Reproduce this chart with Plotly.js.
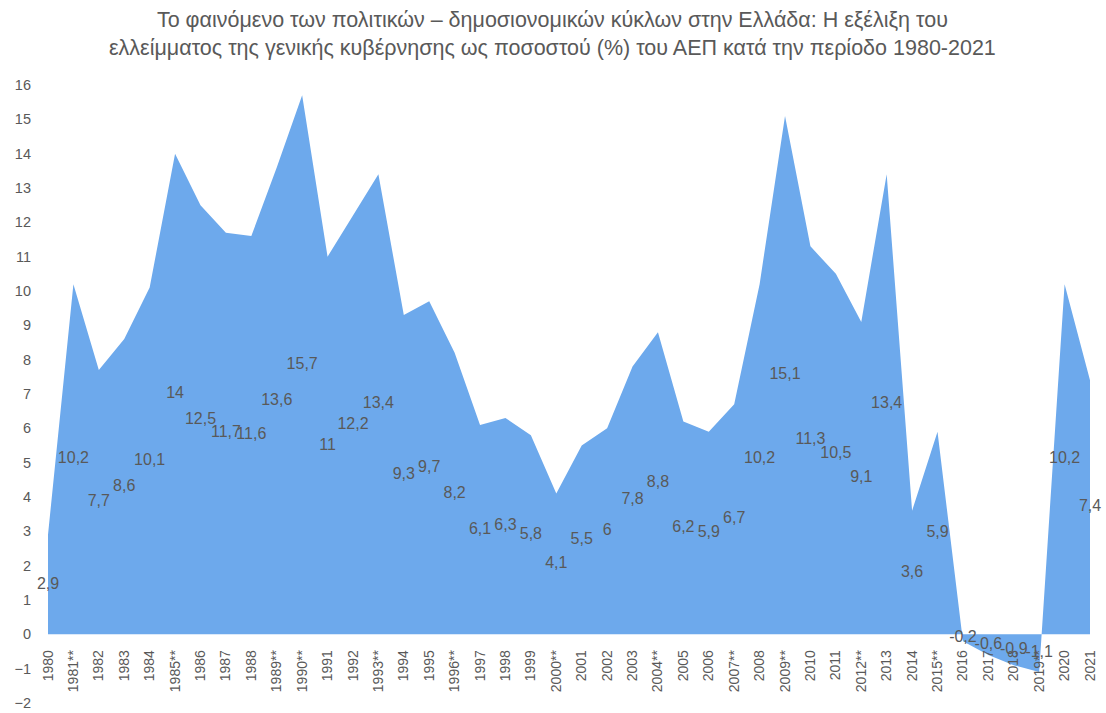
<!DOCTYPE html>
<html><head><meta charset="utf-8">
<script src="https://cdn.plot.ly/plotly-3.0.1.min.js"></script>
<style>html,body{margin:0;padding:0;background:#fff}#c{width:1106px;height:713px}</style>
</head><body><div id="c"></div>
<script>
const years = ['1980','1981**','1982','1983','1984','1985**','1986','1987','1988','1989**','1990**','1991','1992','1993**','1994','1995','1996**','1997','1998','1999','2000**','2001','2002','2003','2004**','2005','2006','2007**','2008','2009**','2010','2011','2012**','2013','2014','2015**','2016','2017','2018','2019**','2020','2021'];
const deficit = [2.9,10.2,7.7,8.6,10.1,14,12.5,11.7,11.6,13.6,15.7,11,12.2,13.4,9.3,9.7,8.2,6.1,6.3,5.8,4.1,5.5,6,7.8,8.8,6.2,5.9,6.7,10.2,15.1,11.3,10.5,9.1,13.4,3.6,5.9,-0.2,-0.6,-0.9,-1.1,10.2,7.4];
const yTicks = [-2,-1,0,1,2,3,4,5,6,7,8,9,10,11,12,13,14,15,16];
const titleText = 'Το φαινόμενο των πολιτικών – δημοσιονομικών κύκλων στην Ελλάδα: Η εξέλιξη του<br>ελλείμματος της γενικής κυβέρνησης ως ποσοστού (%) του ΑΕΠ κατά την περίοδο 1980-2021';

const idx = years.map((_, i) => i);
const fontFam = 'Liberation Sans, Arial, sans-serif';
const gray = '#595959';

const area = {
  type: 'scatter', mode: 'lines', x: idx, y: deficit,
  fill: 'tozeroy', fillcolor: '#6DA9EC', line: {color: '#6DA9EC', width: 0},
  hoverinfo: 'skip', showlegend: false
};
const labels = {
  type: 'scatter', mode: 'text', x: idx, y: deficit.map(v => v / 2),
  text: deficit.map(v => String(v).replace('.', ',')),
  textposition: 'middle center',
  textfont: {family: fontFam, size: 16, color: gray},
  hoverinfo: 'skip', showlegend: false, cliponaxis: false
};

const layout = {
  width: 1106, height: 713,
  margin: {l: 48, r: 16, t: 85, b: 10},
  paper_bgcolor: '#fff', plot_bgcolor: '#fff',
  font: {family: fontFam, color: gray},
  annotations: [{
    text: titleText, xref: 'paper', yref: 'paper',
    x: (552 - 48) / 1042, y: 1 + (85 - 6) / 618, xanchor: 'center', yanchor: 'top',
    showarrow: false, align: 'center',
    font: {family: fontFam, size: 21.5, color: gray}
  }],
  xaxis: {
    type: 'linear', range: [0, years.length - 1],
    tickmode: 'array', tickvals: idx, ticktext: years, tickangle: -90,
    tickfont: {family: fontFam, size: 14, color: gray},
    showgrid: false, zeroline: false, showline: false, ticks: '',
    anchor: 'free', position: 2 / 18, ticklabelstandoff: 12
  },
  yaxis: {
    range: [-2, 16], tickmode: 'array', tickvals: yTicks,
    tickfont: {family: fontFam, size: 14.5, color: gray},
    showgrid: false, zeroline: false, showline: false, ticks: '',
    ticklabelstandoff: 16
  }
};
Plotly.newPlot('c', [area, labels], layout, {displayModeBar: false, staticPlot: true});
</script></body></html>
